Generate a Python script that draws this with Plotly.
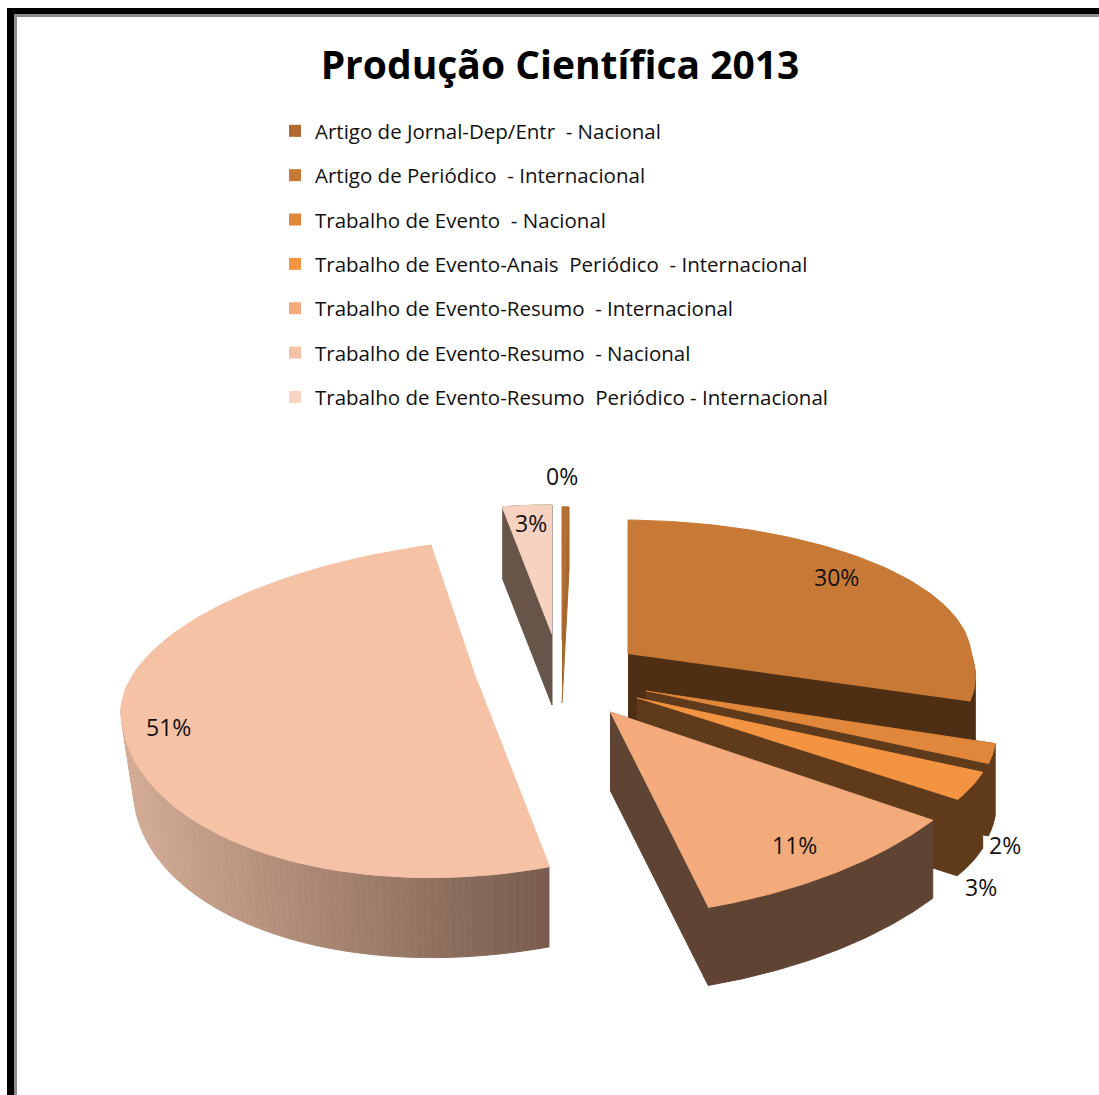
import numpy as np
import plotly.graph_objects as go

# ---- data ----
categories = [
    "Artigo de Jornal-Dep/Entr  - Nacional",
    "Artigo de Periódico  - Internacional",
    "Trabalho de Evento  - Nacional",
    "Trabalho de Evento-Anais  Periódico  - Internacional",
    "Trabalho de Evento-Resumo  - Internacional",
    "Trabalho de Evento-Resumo  - Nacional",
    "Trabalho de Evento-Resumo  Periódico - Internacional",
]
values = [0.4, 30.0, 2.2, 3.2, 11.0, 50.8, 2.6]
title_text = "Produção Científica 2013"

# ---- style / projection of the 3D pie (pixels of the page) ----
top_colors = ["#B46F35", "#C87936", "#E0873C", "#F39443", "#F4AB7C", "#F6C2A6", "#F7D2C0"]
legend_colors = ["#AF6A34", "#C87936", "#E0873C", "#F39443", "#F4AB7C", "#F6C2A6", "#F7D2C0"]
side_colors = ["#A5682F", "#4F2F14", "#5F3A1B", "#5F3A1B", "#5F4434", None, "#665548"]
#        apex x, apex y, a, b back, b front, skew back, skew front, tilt, depth
proj = [
    (562, 640, 280, 133, 133, 0.0, 0.0, 0.0, 63),
    (628, 654, 343, 134, 144, 0.064, 0.38, 0.0, 65),
    (646, 691, 338, 160, 160, 0.0, 0.57, 0.0, 72),
    (637, 698, 350, 163, 163, 0.0, 0.46, 0.0, 76),
    (610, 712, 400, 205, 205, 0.0, 0.08, -0.063, 78),
    (478, 683, 357, 144, 193, -0.08, -0.01, -0.07, 80),
    (552, 634, 307, 129, 129, 0.0, 0.0, 0.0, 71),
]
label_xy = [(562, 476), (836, 577), (1005, 845), (981, 887), (794, 845), (168, 727), (531, 523)]
paint_order = [6, 0, 1, 2, 3, 5, 4]
FONT = "Open Sans"


def pts(i, th):
    ax, ay, a, bb, bf, sb, sf, t, _ = proj[i]
    th = np.asarray(th)
    u = a * np.sin(th)
    c = np.cos(th)
    v = np.where(c > 0, -bb * c, -bf * c)
    s = np.where(c > 0, sb, sf)
    return ax + u + s * v, ay + v + t * u


def hull(x, y):
    p = sorted(set(zip(np.round(x, 2).tolist(), np.round(y, 2).tolist())))

    def half(seq):
        out = []
        for q in seq:
            while len(out) > 1 and (out[-1][0] - out[-2][0]) * (q[1] - out[-2][1]) - (out[-1][1] - out[-2][1]) * (q[0] - out[-2][0]) <= 0:
                out.pop()
            out.append(q)
        return out[:-1]

    h = half(p) + half(p[::-1])
    return [q[0] for q in h], [q[1] for q in h]


def poly(x, y, color):
    return go.Scatter(x=list(x), y=list(y), mode="lines", fill="toself", fillcolor=color,
                      line=dict(color=color, width=1), showlegend=False, hoverinfo="skip")


def lerp(c0, c1, f):
    return "rgb(%d,%d,%d)" % tuple(round(c0[k] + (c1[k] - c0[k]) * f) for k in range(3))


fig = go.Figure()
edges = np.cumsum([0] + values) / sum(values) * 2 * np.pi

for i in paint_order:
    th = np.linspace(edges[i], edges[i + 1], 80)
    x, y = pts(i, th)
    ax, ay, depth = proj[i][0], proj[i][1], proj[i][8]
    tx = np.r_[ax, x]
    ty = np.r_[ay, y]
    if side_colors[i] is not None:
        front = np.cos(th) <= 0
        if front.any():
            sx, sy = np.r_[ax, x[front]], np.r_[ay, y[front]]
        else:
            sx, sy = tx, ty
        hx, hy = hull(np.r_[sx, sx], np.r_[sy, sy + depth])
        fig.add_trace(poly(hx, hy, side_colors[i]))
    else:
        # outer wall with the horizontal shading of the big slice
        wall = np.linspace(edges[i], 3 * np.pi / 2, 90)
        wx, wy = pts(i, wall)
        bx = ax + (wx - ax) * np.where(wx < ax, 0.965, 1.0)
        for k in range(len(wall) - 1):
            f = (wx[k] - wx.min()) / (wx.max() - wx.min())
            col = lerp((212, 172, 148), (120, 92, 78), f)
            fig.add_trace(poly([wx[k], wx[k + 1], bx[k + 1], bx[k]],
                               [wy[k], wy[k + 1], wy[k + 1] + depth, wy[k] + depth], col))
    fig.add_trace(poly(tx, ty, top_colors[i]))

# legend entries
for name, col in zip(categories, legend_colors):
    fig.add_trace(go.Scatter(x=[None], y=[None], mode="markers", name=name, legendgroup=name,
                             marker=dict(symbol="square", size=12, color=col)))

total = sum(values)
annotations = [
    dict(x=lx, y=ly, xref="x", yref="y", text=f"{round(v / total * 100)}%", showarrow=False,
         font=dict(family=FONT, size=23, color="#111111"))
    for (lx, ly), v in zip(label_xy, values)
]

shapes = [
    dict(type="rect", x0=7, x1=14, y0=8, y1=1095, fillcolor="black", line_width=0, layer="above"),
    dict(type="rect", x0=7, x1=1099, y0=8, y1=14, fillcolor="black", line_width=0, layer="above"),
    dict(type="rect", x0=14, x1=17, y0=14, y1=1095, fillcolor="#8C8C8C", line_width=0, layer="above"),
    dict(type="rect", x0=14, x1=1099, y0=14, y1=17, fillcolor="#8C8C8C", line_width=0, layer="above"),
]

fig.update_layout(
    width=1099, height=1095, margin=dict(l=0, r=0, t=0, b=0),
    paper_bgcolor="white", plot_bgcolor="white",
    title=dict(text=f"<b>{title_text}</b>", x=560 / 1099, xanchor="center", y=1 - 65 / 1095, yanchor="middle",
               font=dict(family=FONT, size=39, color="black")),
    xaxis=dict(range=[0, 1099], visible=False, fixedrange=True),
    yaxis=dict(range=[1095, 0], visible=False, fixedrange=True),
    legend=dict(x=275 / 1099, y=1 - 111 / 1095, xanchor="left", yanchor="top", tracegroupgap=14.7,
                bgcolor="rgba(0,0,0,0)", font=dict(family=FONT, size=20.5, color="#111111"), itemwidth=30),
    annotations=annotations, shapes=shapes, showlegend=True,
)
fig.write_html("out.html", config={"displayModeBar": False},
               post_script="document.body.style.margin='0';document.body.style.overflow='hidden';")
